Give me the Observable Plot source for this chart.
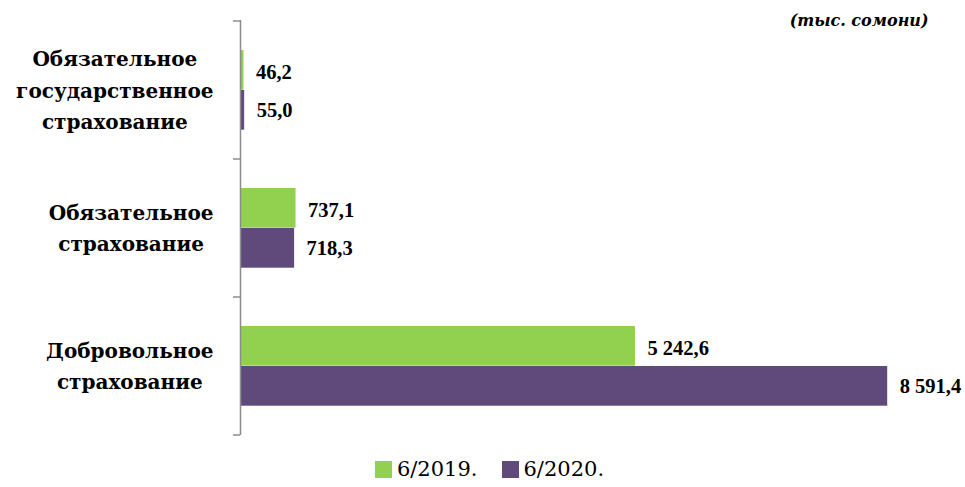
<!DOCTYPE html>
<html>
<head>
<meta charset="utf-8">
<script src="https://cdn.jsdelivr.net/npm/d3@7"></script>
<script src="https://cdn.jsdelivr.net/npm/@observablehq/plot@0.6"></script>
<style>
  body { margin: 0; background: #fff; font-family: "DejaVu Serif", serif; }
  #chart svg { display: block; overflow: visible; }
  #legend { display: flex; justify-content: center; align-items: center; gap: 24px;
            margin-top: 12px; padding-left: 14px; font-size: 21px; color: #000; }
  #legend .item { display: flex; align-items: center; gap: 5px; }
  #legend .sw { width: 17px; height: 17px; display: inline-block; }
</style>
</head>
<body>
<div id="chart"></div>
<div id="legend"></div>
<script>
// ---- data ----
const categories = [
  "Обязательное государственное страхование",
  "Обязательное страхование",
  "Добровольное страхование"
];
const categoryLines = [
  ["Обязательное", "государственное", "страхование"],
  ["Обязательное", "страхование"],
  ["Добровольное", "страхование"]
];
const seriesNames = ["6/2019.", "6/2020."];
const values2019 = [46.2, 737.1, 5242.6];
const values2020 = [55.0, 718.3, 8591.4];
const seriesColors = ["#92d050", "#604a7b"];
const unitLabel = "(тыс. сомони)";

// ---- build ----
const fmt = d3.formatLocale({decimal: ",", thousands: "\u00a0", grouping: [3]}).format(",.1f");
const rows2019 = categories.map((c, i) => ({cat: c, series: seriesNames[0], value: values2019[i]}));
const rows2020 = categories.map((c, i) => ({cat: c, series: seriesNames[1], value: values2020[i]}));

const labelFont = "bold 20px 'DejaVu Serif'";
const ctx = document.createElement("canvas").getContext("2d");
ctx.font = labelFont;
const blockWidth = categoryLines.map(ls => d3.max(ls, l => ctx.measureText(l).width));

const axisColor = "#8c8c8c";
const valueFont = "'Liberation Serif', serif";

function bandTicks(index, scales, values, dimensions) {
  const y = scales.y;
  const bw = y.bandwidth ? y.bandwidth() : 0;
  const x0 = dimensions.marginLeft;
  const pos = categories.map(c => y(c));
  pos.push(y(categories[categories.length - 1]) + bw);
  const g = d3.create("svg:g");
  g.selectAll("line").data(pos).join("line")
    .attr("x1", x0 - 7).attr("x2", x0)
    .attr("y1", d => d).attr("y2", d => d)
    .attr("stroke", axisColor).attr("stroke-width", 1.5);
  return g.node();
}

const chart = Plot.plot({
  width: 965,
  height: 445,
  marginLeft: 240,
  marginRight: 47,
  marginTop: 20,
  marginBottom: 10,
  style: {fontFamily: "'DejaVu Serif', serif", background: "#fff", overflow: "visible"},
  x: {domain: [0, 9000], axis: null},
  y: {domain: categories, padding: 0, axis: null},
  marks: [
    Plot.barX(rows2019, {x: "value", y: "cat", fill: seriesColors[0], insetTop: 29, insetBottom: 69.3}),
    Plot.barX(rows2020, {x: "value", y: "cat", fill: seriesColors[1], insetTop: 69, insetBottom: 29.3}),
    Plot.text(rows2019, {x: "value", y: "cat", text: d => fmt(d.value), dx: 12, dy: -18,
      textAnchor: "start", fontSize: 20.5, fontWeight: "bold", fontFamily: valueFont, fill: "#000"}),
    Plot.text(rows2020, {x: "value", y: "cat", text: d => fmt(d.value), dx: 12, dy: 20,
      textAnchor: "start", fontSize: 20.5, fontWeight: "bold", fontFamily: valueFont, fill: "#000"}),
    ...categories.map((c, i) => Plot.text([c], {
      y: d => d, text: () => categoryLines[i].join("\n"),
      frameAnchor: "left", textAnchor: "middle", dx: -(27 + blockWidth[i] / 2), dy: -3,
      lineHeight: 1.58, fontSize: 20, fontWeight: "bold", fill: "#000"
    })),
    Plot.ruleX([0], {stroke: axisColor, strokeWidth: 1.5}),
    bandTicks,
    Plot.text([unitLabel], {frameAnchor: "top-right", textAnchor: "end", lineAnchor: "middle",
      dx: 10, dy: 0, fontSize: 16, fontWeight: "bold", fontStyle: "italic", fill: "#000"})
  ]
});
document.getElementById("chart").append(chart);

const legend = d3.select("#legend");
seriesNames.forEach((s, i) => {
  const it = legend.append("div").attr("class", "item");
  it.append("span").attr("class", "sw").style("background", seriesColors[i]);
  it.append("span").text(s);
});
</script>
</body>
</html>
